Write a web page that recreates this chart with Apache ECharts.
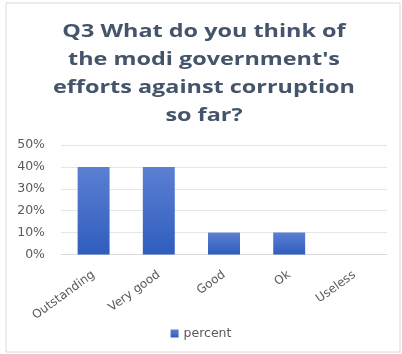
<!DOCTYPE html>
<html>
<head>
<meta charset="utf-8">
<script src="https://cdn.jsdelivr.net/npm/echarts@6/dist/echarts.min.js"></script>
<style>
  html, body { margin: 0; padding: 0; background: #fff; }
  #chart { width: 402px; height: 354px; }
</style>
</head>
<body>
<div id="chart"></div>
<script>
// Survey answers and their share of respondents (percent)
const categories = ['Outstanding', 'Very good', 'Good', 'Ok', 'Useless'];
const percentValues = [40, 40, 10, 10, 0];
const yTicks = [0, 10, 20, 30, 40, 50];
const seriesName = 'percent';
const titleText = "Q3 What do you think of\nthe modi government's\nefforts against corruption\nso far?";

const FONT = 'DejaVu Sans';
const chart = echarts.init(document.getElementById('chart'), null, { renderer: 'canvas' });

chart.setOption({
  backgroundColor: '#ffffff',
  animation: false,
  graphic: [{
    type: 'rect',
    shape: { x: 6, y: 3, width: 394, height: 349 },
    style: { fill: 'none', stroke: '#D9D9D9', lineWidth: 1 },
    silent: true
  }, {
    // Title, drawn as a wide display heading
    type: 'text',
    x: 204,
    y: 18,
    scaleX: 1.3,
    silent: true,
    style: {
      text: titleText,
      x: 0,
      y: 0,
      align: 'center',
      verticalAlign: 'top',
      font: 'bold 18px "Open Sans"',
      lineHeight: 28,
      fill: '#44546A'
    }
  }],
  legend: {
    data: [seriesName],
    bottom: 9,
    left: 'center',
    itemWidth: 8,
    itemHeight: 8,
    itemGap: 6,
    icon: 'rect',
    textStyle: { fontFamily: FONT, fontSize: 12.5, color: '#595959' }
  },
  grid: { left: 61, right: 15, top: 145, height: 109.5, containLabel: false },
  xAxis: {
    type: 'category',
    data: categories,
    axisLine: { show: true, lineStyle: { color: '#D9D9D9' } },
    axisTick: { show: false },
    axisLabel: {
      rotate: 36,
      interval: 0,
      margin: 19,
      fontFamily: FONT,
      fontSize: 12,
      color: '#595959'
    }
  },
  yAxis: {
    type: 'value',
    min: yTicks[0],
    max: yTicks[yTicks.length - 1],
    interval: yTicks[1] - yTicks[0],
    axisLine: { show: false },
    axisTick: { show: false },
    splitLine: { lineStyle: { color: '#E4E6EA', width: 1 } },
    axisLabel: {
      formatter: '{value}%',
      margin: 16,
      fontFamily: FONT,
      fontSize: 12.5,
      color: '#595959'
    }
  },
  series: [{
    name: seriesName,
    type: 'bar',
    data: percentValues,
    barWidth: '49%',
    itemStyle: {
      color: new echarts.graphic.LinearGradient(0, 0, 0, 1, [
        { offset: 0, color: '#5B80D2' },
        { offset: 1, color: '#2F5DBE' }
      ])
    }
  }]
});
</script>
</body>
</html>
